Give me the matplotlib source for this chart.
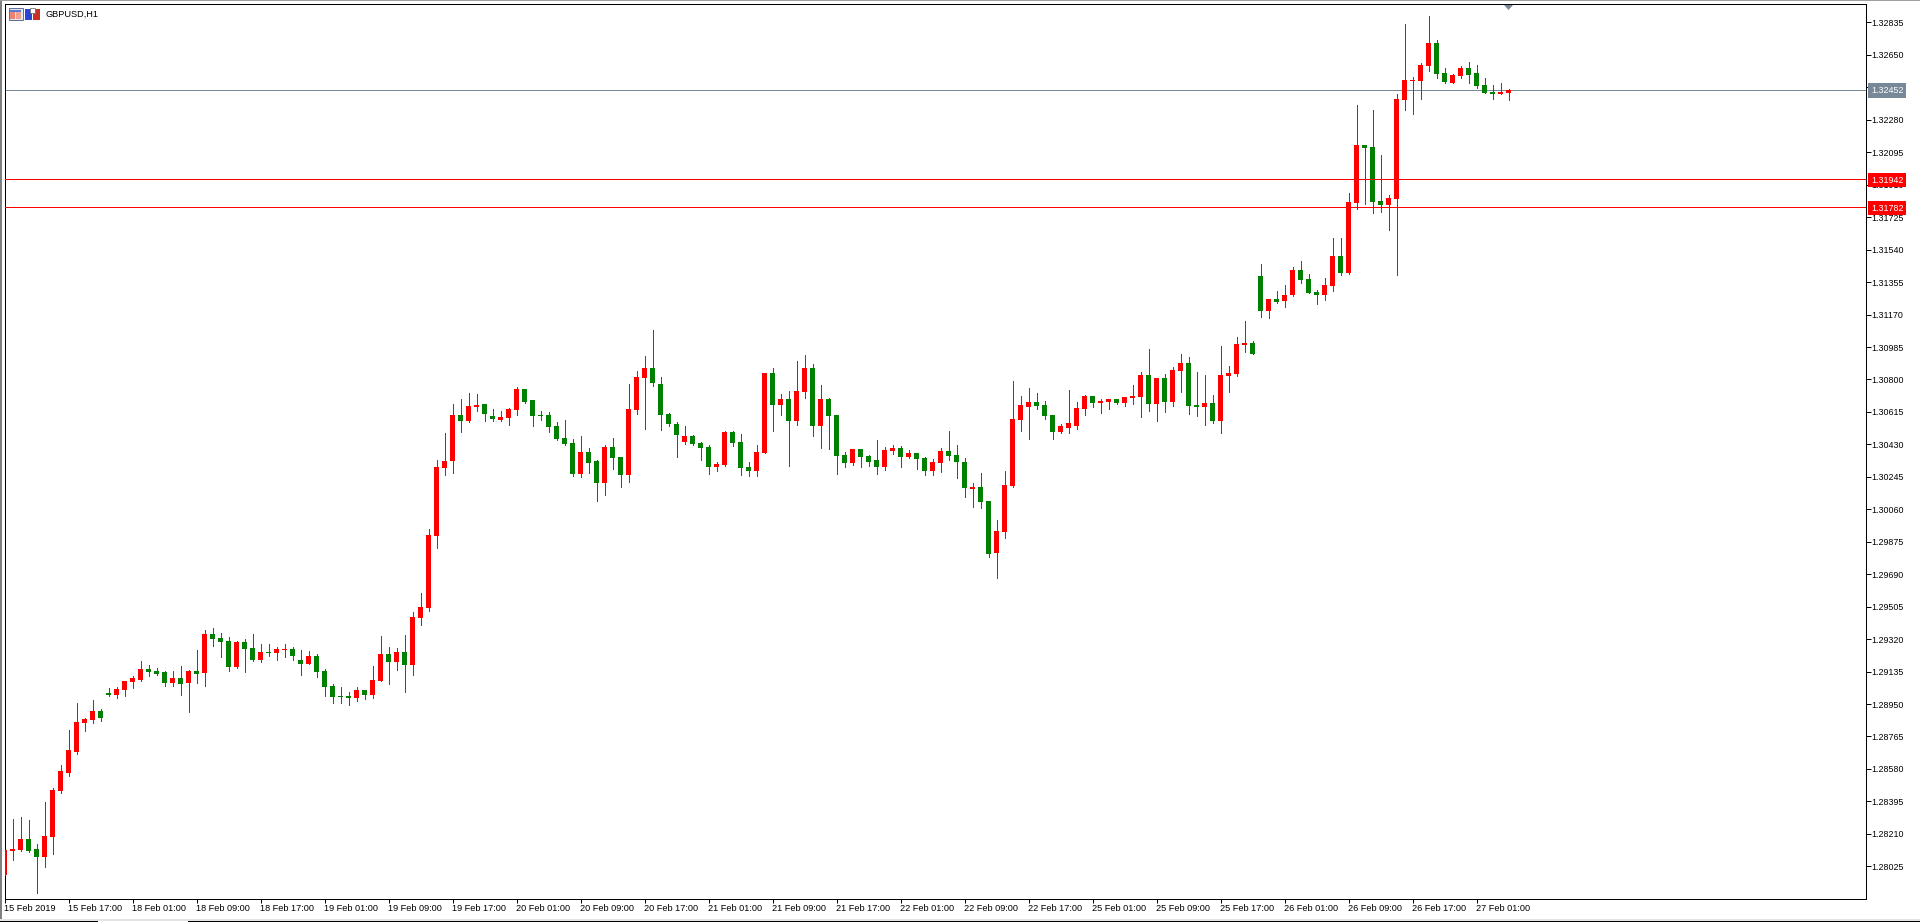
import matplotlib
matplotlib.use("Agg")
import matplotlib.pyplot as plt
from matplotlib.patches import Rectangle, Polygon
import numpy as np

# GBPUSD H1 candles, one row per bar
opens = [
    1.27976, 1.28112, 1.28118, 1.28181, 1.28124, 1.28078, 1.28192, 1.28452, 1.28557, 1.28677,
    1.28842, 1.28859, 1.28910, 1.29013, 1.29002, 1.29030, 1.29076, 1.29087, 1.29150, 1.29138,
    1.29133, 1.29070, 1.29098, 1.29070, 1.29138, 1.29127, 1.29349, 1.29326, 1.29309, 1.29161,
    1.29302, 1.29269, 1.29201, 1.29247, 1.29241, 1.29258, 1.29264, 1.29201, 1.29178, 1.29224,
    1.29138, 1.29053, 1.28996, 1.28996, 1.28984, 1.29030, 1.29002, 1.29081, 1.29235, 1.29190,
    1.29247, 1.29173, 1.29440, 1.29497, 1.29908, 1.30295, 1.30335, 1.30598, 1.30563, 1.30643,
    1.30660, 1.30592, 1.30569, 1.30580, 1.30626, 1.30746, 1.30683, 1.30598, 1.30598, 1.30535,
    1.30466, 1.30438, 1.30261, 1.30387, 1.30335, 1.30210, 1.30415, 1.30358, 1.30256, 1.30626,
    1.30808, 1.30865, 1.30774, 1.30603, 1.30546, 1.30444, 1.30478, 1.30438, 1.30415, 1.30301,
    1.30313, 1.30501, 1.30444, 1.30301, 1.30278, 1.30381, 1.30837, 1.30655, 1.30689, 1.30563,
    1.30729, 1.30865, 1.30535, 1.30689, 1.30598, 1.30370, 1.30324, 1.30404, 1.30364, 1.30341,
    1.30301, 1.30392, 1.30409, 1.30358, 1.30381, 1.30352, 1.30278, 1.30324, 1.30392, 1.30370,
    1.30330, 1.30176, 1.30187, 1.30107, 1.29811, 1.29931, 1.30193, 1.30569, 1.30643, 1.30672,
    1.30655, 1.30598, 1.30501, 1.30523, 1.30535, 1.30632, 1.30706, 1.30666, 1.30672, 1.30689,
    1.30666, 1.30694, 1.30700, 1.30826, 1.30660, 1.30808, 1.30672, 1.30848, 1.30894, 1.30655,
    1.30643, 1.30666, 1.30563, 1.30820, 1.30831, 1.30997, 1.31008, 1.31390, 1.31190, 1.31259,
    1.31247, 1.31282, 1.31424, 1.31373, 1.31299, 1.31282, 1.31333, 1.31504, 1.31407, 1.31806,
    1.32137, 1.32125, 1.31817, 1.31795, 1.31829, 1.32393, 1.32501, 1.32501, 1.32587, 1.32718,
    1.32547, 1.32490, 1.32530, 1.32575, 1.32547, 1.32479, 1.32439, 1.32427, 1.32433,
]
highs = [
    1.28118, 1.28295, 1.28306, 1.28289, 1.28152, 1.28392, 1.28471, 1.28603, 1.28802, 1.28956,
    1.28870, 1.28973, 1.28922, 1.29041, 1.29047, 1.29081, 1.29110, 1.29195, 1.29173, 1.29155,
    1.29138, 1.29138, 1.29167, 1.29144, 1.29258, 1.29372, 1.29383, 1.29355, 1.29332, 1.29309,
    1.29321, 1.29349, 1.29292, 1.29292, 1.29275, 1.29292, 1.29275, 1.29258, 1.29252, 1.29235,
    1.29150, 1.29064, 1.29047, 1.29019, 1.29047, 1.29030, 1.29167, 1.29338, 1.29275, 1.29269,
    1.29344, 1.29475, 1.29583, 1.29948, 1.30341, 1.30495, 1.30660, 1.30689, 1.30723, 1.30717,
    1.30660, 1.30632, 1.30620, 1.30637, 1.30757, 1.30746, 1.30683, 1.30620, 1.30615, 1.30558,
    1.30569, 1.30461, 1.30478, 1.30409, 1.30341, 1.30427, 1.30466, 1.30358, 1.30774, 1.30848,
    1.30934, 1.31082, 1.30814, 1.30609, 1.30558, 1.30535, 1.30484, 1.30444, 1.30427, 1.30330,
    1.30506, 1.30506, 1.30489, 1.30330, 1.30427, 1.30837, 1.30865, 1.30717, 1.30734, 1.30905,
    1.30940, 1.30888, 1.30769, 1.30694, 1.30598, 1.30387, 1.30404, 1.30404, 1.30370, 1.30455,
    1.30415, 1.30427, 1.30421, 1.30398, 1.30381, 1.30358, 1.30347, 1.30409, 1.30506, 1.30427,
    1.30352, 1.30210, 1.30267, 1.30107, 1.29999, 1.30278, 1.30791, 1.30706, 1.30751, 1.30723,
    1.30677, 1.30598, 1.30546, 1.30740, 1.30672, 1.30712, 1.30706, 1.30689, 1.30689, 1.30689,
    1.30700, 1.30769, 1.30843, 1.30974, 1.30808, 1.30831, 1.30871, 1.30945, 1.30928, 1.30843,
    1.30826, 1.30712, 1.30991, 1.30877, 1.31042, 1.31133, 1.31019, 1.31458, 1.31259, 1.31304,
    1.31339, 1.31441, 1.31475, 1.31401, 1.31310, 1.31378, 1.31606, 1.31606, 1.31863, 1.32365,
    1.32137, 1.32336, 1.32080, 1.31852, 1.32427, 1.32826, 1.32524, 1.32604, 1.32872, 1.32735,
    1.32575, 1.32541, 1.32587, 1.32610, 1.32593, 1.32518, 1.32479, 1.32490, 1.32456,
]
lows = [
    1.27976, 1.28061, 1.28112, 1.28107, 1.27873, 1.28021, 1.28095, 1.28443, 1.28540, 1.28665,
    1.28796, 1.28842, 1.28853, 1.28996, 1.28984, 1.28996, 1.29041, 1.29081, 1.29110, 1.29116,
    1.29053, 1.29053, 1.29002, 1.28905, 1.29070, 1.29053, 1.29281, 1.29218, 1.29138, 1.29155,
    1.29133, 1.29195, 1.29190, 1.29224, 1.29201, 1.29218, 1.29201, 1.29116, 1.29178, 1.29104,
    1.28996, 1.28956, 1.28956, 1.28945, 1.28967, 1.28979, 1.28984, 1.29081, 1.29064, 1.29144,
    1.29019, 1.29116, 1.29401, 1.29480, 1.29839, 1.30256, 1.30267, 1.30501, 1.30558, 1.30620,
    1.30563, 1.30563, 1.30563, 1.30541, 1.30598, 1.30666, 1.30535, 1.30569, 1.30501, 1.30455,
    1.30427, 1.30250, 1.30244, 1.30267, 1.30107, 1.30142, 1.30290, 1.30187, 1.30216, 1.30603,
    1.30518, 1.30763, 1.30512, 1.30535, 1.30358, 1.30432, 1.30427, 1.30341, 1.30261, 1.30278,
    1.30307, 1.30421, 1.30256, 1.30250, 1.30250, 1.30381, 1.30506, 1.30598, 1.30307, 1.30541,
    1.30694, 1.30478, 1.30409, 1.30404, 1.30261, 1.30301, 1.30313, 1.30301, 1.30307, 1.30261,
    1.30284, 1.30375, 1.30301, 1.30352, 1.30290, 1.30256, 1.30256, 1.30273, 1.30341, 1.30238,
    1.30130, 1.30073, 1.30067, 1.29788, 1.29668, 1.29896, 1.30187, 1.30506, 1.30461, 1.30632,
    1.30575, 1.30461, 1.30495, 1.30495, 1.30518, 1.30598, 1.30643, 1.30609, 1.30632, 1.30660,
    1.30649, 1.30660, 1.30586, 1.30620, 1.30563, 1.30615, 1.30649, 1.30729, 1.30603, 1.30592,
    1.30541, 1.30552, 1.30495, 1.30729, 1.30820, 1.30957, 1.30945, 1.31156, 1.31150, 1.31236,
    1.31213, 1.31276, 1.31350, 1.31293, 1.31230, 1.31253, 1.31304, 1.31396, 1.31401, 1.31772,
    1.31800, 1.31749, 1.31755, 1.31652, 1.31396, 1.32336, 1.32313, 1.32399, 1.32558, 1.32518,
    1.32490, 1.32490, 1.32518, 1.32490, 1.32461, 1.32433, 1.32399, 1.32427, 1.32393,
]
closes = [
    1.28118, 1.28124, 1.28181, 1.28112, 1.28078, 1.28198, 1.28460, 1.28568, 1.28688, 1.28848,
    1.28865, 1.28910, 1.28870, 1.29002, 1.29036, 1.29081, 1.29098, 1.29150, 1.29133, 1.29121,
    1.29070, 1.29098, 1.29064, 1.29138, 1.29121, 1.29349, 1.29321, 1.29304, 1.29161, 1.29304,
    1.29264, 1.29201, 1.29247, 1.29241, 1.29264, 1.29264, 1.29224, 1.29178, 1.29224, 1.29133,
    1.29047, 1.28990, 1.28990, 1.28984, 1.29030, 1.29002, 1.29087, 1.29235, 1.29190, 1.29247,
    1.29173, 1.29446, 1.29503, 1.29914, 1.30301, 1.30335, 1.30598, 1.30563, 1.30649, 1.30655,
    1.30603, 1.30575, 1.30586, 1.30632, 1.30746, 1.30672, 1.30592, 1.30592, 1.30529, 1.30461,
    1.30432, 1.30261, 1.30387, 1.30324, 1.30210, 1.30415, 1.30352, 1.30256, 1.30632, 1.30814,
    1.30865, 1.30780, 1.30598, 1.30546, 1.30484, 1.30478, 1.30432, 1.30409, 1.30301, 1.30318,
    1.30501, 1.30438, 1.30295, 1.30278, 1.30387, 1.30837, 1.30655, 1.30689, 1.30563, 1.30734,
    1.30865, 1.30535, 1.30689, 1.30592, 1.30364, 1.30324, 1.30404, 1.30358, 1.30330, 1.30301,
    1.30398, 1.30409, 1.30358, 1.30381, 1.30347, 1.30278, 1.30330, 1.30392, 1.30364, 1.30330,
    1.30181, 1.30187, 1.30102, 1.29805, 1.29936, 1.30199, 1.30575, 1.30655, 1.30672, 1.30649,
    1.30592, 1.30501, 1.30535, 1.30552, 1.30637, 1.30706, 1.30666, 1.30677, 1.30689, 1.30666,
    1.30700, 1.30706, 1.30826, 1.30660, 1.30808, 1.30672, 1.30854, 1.30894, 1.30649, 1.30643,
    1.30666, 1.30563, 1.30826, 1.30837, 1.31002, 1.31008, 1.30945, 1.31190, 1.31259, 1.31242,
    1.31282, 1.31424, 1.31367, 1.31293, 1.31282, 1.31339, 1.31504, 1.31407, 1.31812, 1.32137,
    1.32119, 1.31812, 1.31795, 1.31834, 1.32399, 1.32507, 1.32507, 1.32593, 1.32718, 1.32541,
    1.32496, 1.32536, 1.32575, 1.32536, 1.32473, 1.32433, 1.32427, 1.32439, 1.32450,
]

symbol = "GBPUSD,H1"
bid_price = 1.32452
level_prices = [1.31942, 1.31782]
price_ticks = [
    1.32835, 1.32650, 1.32465, 1.32280, 1.32095, 1.31910, 1.31725, 1.31540, 1.31355,
    1.31170, 1.30985, 1.30800, 1.30615, 1.30430, 1.30245, 1.30060, 1.29875, 1.29690,
    1.29505, 1.29320, 1.29135, 1.28950, 1.28765, 1.28580, 1.28395, 1.28210, 1.28025,
]
time_labels = [
    "15 Feb 2019", "15 Feb 17:00", "18 Feb 01:00", "18 Feb 09:00", "18 Feb 17:00", "19 Feb 01:00",
    "19 Feb 09:00", "19 Feb 17:00", "20 Feb 01:00", "20 Feb 09:00", "20 Feb 17:00", "21 Feb 01:00",
    "21 Feb 09:00", "21 Feb 17:00", "22 Feb 01:00", "22 Feb 09:00", "22 Feb 17:00", "25 Feb 01:00",
    "25 Feb 09:00", "25 Feb 17:00", "26 Feb 01:00", "26 Feb 09:00", "26 Feb 17:00", "27 Feb 01:00",
]

W, H = 1920, 922
UP = "#ff0000"
DOWN = "#008000"
SLATE = "#778899"
FONT = "Liberation Sans"
LW = 0.72  # one pixel at 100 dpi
TIME_SIZE = 6.55
PRICE_SIZE = 6.4

opens = np.array(opens)
highs = np.array(highs)
lows = np.array(lows)
closes = np.array(closes)
bars = np.arange(len(opens))
is_up = closes >= opens
colors = np.where(is_up, UP, DOWN)

fig = plt.figure(figsize=(W / 100, H / 100), dpi=100, facecolor="white")

# window frame and small decorations, in pixel coordinates
frame = fig.add_axes([0, 0, 1, 1], zorder=0)
frame.set_xlim(0, W)
frame.set_ylim(H, 0)
frame.axis("off")
frame.add_patch(Rectangle((0, 0), W, 1, fc="#a0a0a0", lw=0))
frame.add_patch(Rectangle((0, 1), 2, H, fc="#808080", lw=0))
frame.add_patch(Rectangle((0, 919), W, 2, fc="#e4e4e4", lw=0))
frame.add_patch(Rectangle((0, 921), 98, 1, fc="black", lw=0))
frame.add_patch(Rectangle((188, 921), W - 188, 1, fc="black", lw=0))

ax = fig.add_axes([4.5 / W, (H - 898.5) / H, 1861 / W, 894 / H], zorder=1)
ax.patch.set_alpha(0)
ax.set_xlim(0, 1861 / 8)
ax.set_ylim(1.2784155, 1.3293735)

# wicks first, bodies above them
ax.vlines(bars, lows, highs, colors=colors, linewidth=LW, antialiased=False, zorder=3)
ax.bar(bars, np.abs(closes - opens), bottom=np.minimum(opens, closes), width=5 / 8,
       color=colors, linewidth=0, antialiased=False, zorder=4)

ax.axhline(bid_price, color=SLATE, linewidth=LW, antialiased=False, zorder=2)
for level in level_prices:
    ax.axhline(level, color=UP, linewidth=LW, antialiased=False, zorder=5)

for side in ax.spines.values():
    side.set_linewidth(LW)
    side.set_color("black")

ax.yaxis.tick_right()
ax.set_yticks(price_ticks, [f"{p:.5f}" for p in price_ticks])
ax.set_xticks(np.arange(len(time_labels)) * 8, time_labels)
ax.tick_params(axis="y", length=3.6, width=LW, pad=0.5, labelsize=PRICE_SIZE)
ax.tick_params(axis="x", length=2.9, width=LW, pad=1.0, labelsize=TIME_SIZE)
for label in ax.get_yticklabels():
    label.set_fontfamily(FONT)
for label in ax.get_xticklabels():
    label.set_fontfamily(FONT)
    label.set_ha("left")

# price tags on the right scale
for price, face in [(bid_price, SLATE), (level_prices[0], UP), (level_prices[1], UP)]:
    ax.annotate(f"{price:.5f}", xy=(1, price), xycoords=("axes fraction", "data"),
                xytext=(4.0, -0.72), textcoords="offset points", ha="left", va="center",
                family=FONT, fontsize=PRICE_SIZE, color="white", annotation_clip=False,
                bbox=dict(boxstyle="square,pad=0.3", fc=face, ec="none"), zorder=10)

# symbol caption and its two toolbar icons
frame.text(45, 14, symbol, family=FONT, fontsize=TIME_SIZE, va="center", ha="left", color="black")
frame.add_patch(Rectangle((8.5, 8.5), 14, 12, fc="#dfe6f5", ec="#6a6f8f", lw=LW))
frame.add_patch(Rectangle((10, 10), 11, 2, fc="#5a7bd0", lw=0))
frame.add_patch(Rectangle((10, 12.5), 5, 7, fc="#f08070", lw=0))
frame.add_patch(Rectangle((16, 12.5), 5, 7, fc="#f4a090", lw=0))
frame.add_patch(Rectangle((25, 9), 7, 11, fc="#2a44d8", lw=0))
frame.add_patch(Rectangle((33, 9), 7, 11, fc="#c83028", lw=0))
frame.add_patch(Rectangle((30, 8), 5, 5, fc="white", ec="#606060", lw=0.5))

# marker of the last bar on the top edge
frame.add_patch(Polygon([(1504, 5), (1513, 5), (1508.5, 10)], closed=True, fc=SLATE, lw=0))

fig.savefig("out.png", dpi=100, facecolor="white")
